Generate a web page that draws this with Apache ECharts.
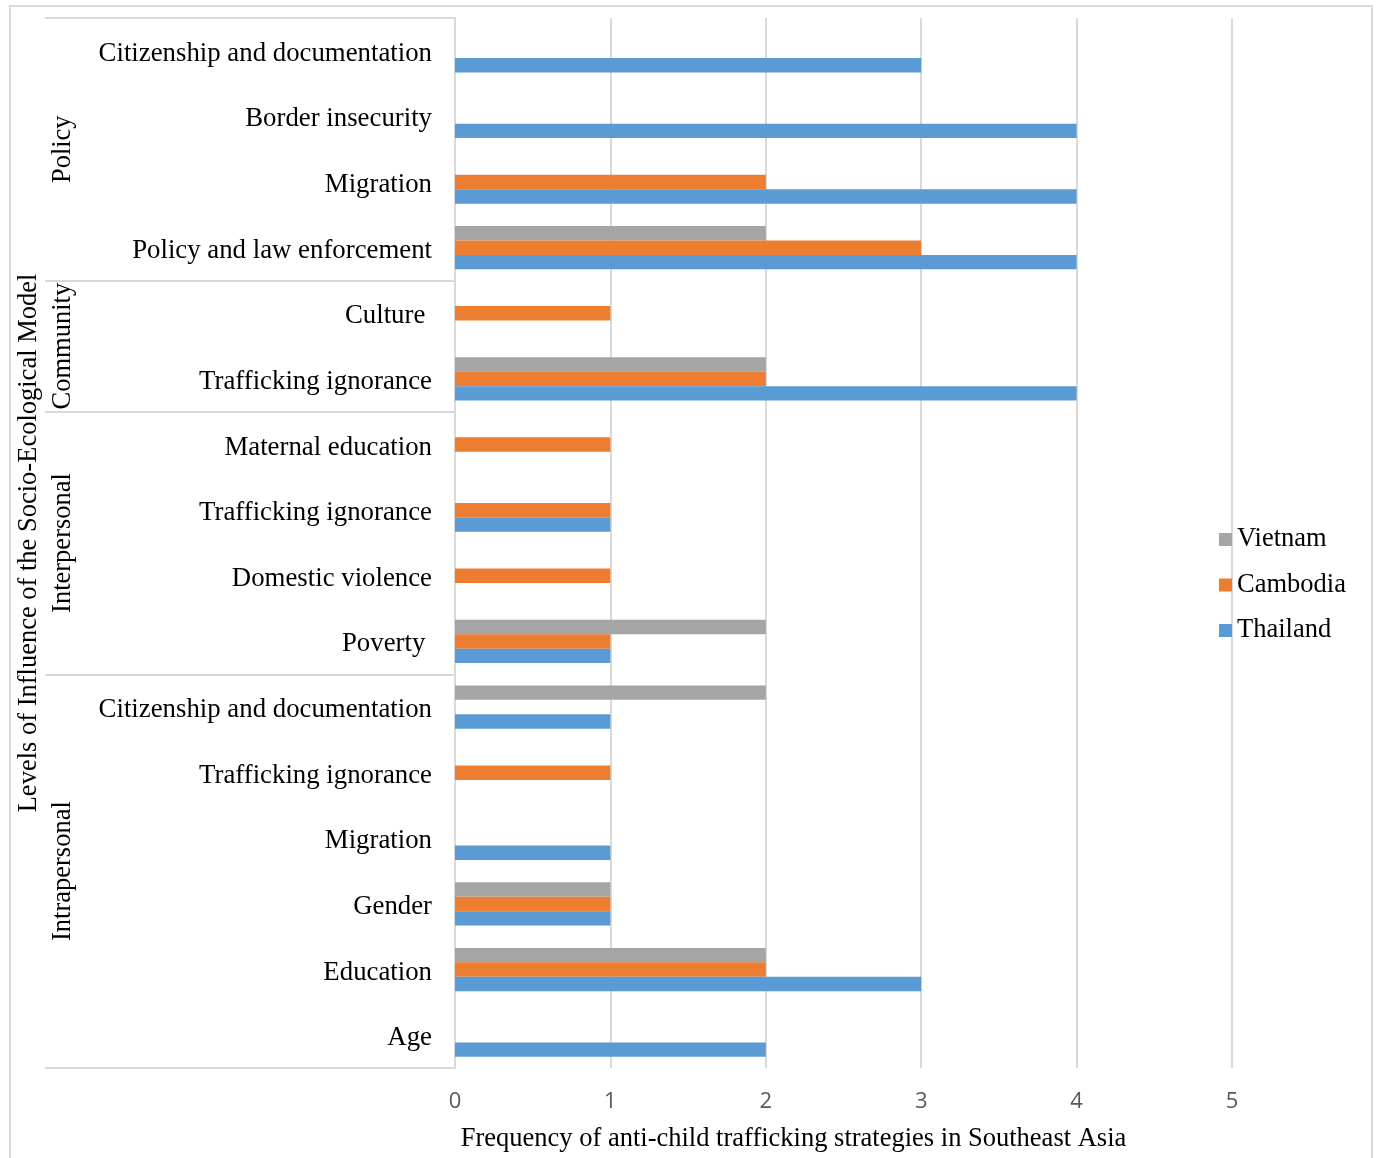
<!DOCTYPE html>
<html><head><meta charset="utf-8">
<script src="https://cdn.jsdelivr.net/npm/echarts@6/dist/echarts.min.js"></script>
<style>
html,body{margin:0;padding:0;background:#fff;}
#frame{position:absolute;left:9px;top:5px;width:1364px;height:1160px;border:2px solid #d9d9d9;box-sizing:border-box;pointer-events:none;}
#chart{position:absolute;left:0;top:0;width:1382px;height:1158px;}
</style></head>
<body>
<div id="chart"></div>
<div id="frame"></div>
<script>
// Categories bottom-to-top
const categories = ['Age','Education','Gender','Migration','Trafficking ignorance','Citizenship and documentation',
  'Poverty ','Domestic violence','Trafficking ignorance','Maternal education',
  'Trafficking ignorance','Culture ',
  'Policy and law enforcement','Migration','Border insecurity','Citizenship and documentation'];
const groupNames = ['Intrapersonal','Interpersonal','Community','Policy'];
const groupSizes = [6,4,2,4];
const seriesNames = ['Vietnam','Cambodia','Thailand'];
const vietnam  = [0,2,1,0,0,2, 2,0,0,0, 2,0, 2,0,0,0];
const cambodia = [0,2,1,0,1,0, 1,1,1,1, 2,1, 3,2,0,0];
const thailand = [2,3,1,1,0,1, 1,0,1,0, 4,0, 4,4,4,3];
const xTicks = [0,1,2,3,4,5];
const xTitle = 'Frequency of anti-child trafficking strategies in Southeast Asia';
const yTitle = 'Levels of Influence of the Socio-Ecological Model';

// group boundaries and centers
const bounds = [0]; const centers = [];
groupSizes.forEach((s,i)=>{ centers.push(bounds[i] + s/2); bounds.push(bounds[i]+s); });
const total = bounds[bounds.length-1];

const serif = '"Liberation Serif","Times New Roman",serif';
const colors = ['#A5A5A5','#ED7D31','#5B9BD5'];
const chart = echarts.init(document.getElementById('chart'));
chart.setOption({
  animation:false,
  color: colors,
  grid:{left:455, top:18, width:777, height:1050, containLabel:false},
  legend:{
    orient:'vertical', left:1214, top:521, itemWidth:13, itemHeight:13, itemGap:18.5, itemTextGap:6,
    data: seriesNames, icon:'rect',
    textStyle:{fontFamily:serif, fontSize:26.5, color:'#000', lineHeight:26}
  },
  xAxis:{
    type:'value', min:xTicks[0], max:xTicks[xTicks.length-1], interval:1,
    axisLine:{show:false}, axisTick:{show:false},
    splitLine:{lineStyle:{color:'#d9d9d9', width:2}},
    axisLabel:{margin:23, fontSize:22, color:'#595959', fontFamily:'"Open Sans",sans-serif'},
    name:xTitle, nameLocation:'middle', nameGap:58,
    nameTextStyle:{fontFamily:serif, fontSize:26.5, color:'#000', padding:[0,100,0,0]}
  },
  yAxis:[{
    type:'category', data:categories,
    axisLine:{show:true, lineStyle:{color:'#d9d9d9', width:2}},
    axisTick:{show:false},
    axisLabel:{margin:23, color:'#000',
      formatter:(v)=>'{a|' + v + '}',
      rich:{a:{fontFamily:serif, fontSize:26.8, color:'#000', padding:[6,0,0,0]}}}
  },{
    type:'value', min:0, max:total, position:'left',
    axisLine:{show:false},
    splitLine:{show:false},
    axisTick:{show:true, customValues:bounds, length:410, lineStyle:{color:'#d9d9d9', width:2}},
    axisLabel:{show:true, customValues:centers, rotate:90, margin:378,
      fontFamily:serif, fontSize:26.5, color:'#000',
      formatter:(v)=>groupNames[centers.indexOf(v)]},
    name:yTitle, nameLocation:'middle', nameRotate:90, nameGap:410,
    nameTextStyle:{fontFamily:serif, fontSize:26.5, color:'#000'}
  }],
  series:[
    {name:seriesNames[0], type:'bar', data:vietnam, barGap:'0%', barCategoryGap:'34%', yAxisIndex:0},
    {name:seriesNames[1], type:'bar', data:cambodia, barGap:'0%', barCategoryGap:'34%', yAxisIndex:0},
    {name:seriesNames[2], type:'bar', data:thailand, barGap:'0%', barCategoryGap:'34%', yAxisIndex:0}
  ]
});
</script>
</body></html>
